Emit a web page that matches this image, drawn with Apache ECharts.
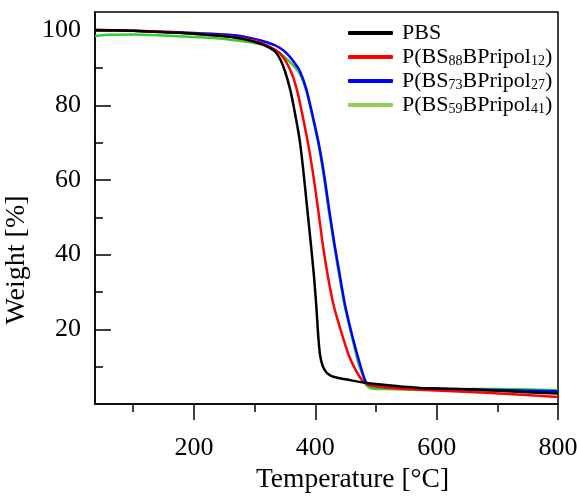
<!DOCTYPE html>
<html>
<head>
<meta charset="utf-8">
<script src="https://cdn.jsdelivr.net/npm/echarts@6/dist/echarts.min.js"></script>
<style>
html, body { margin: 0; padding: 0; background: #fff; }
#chart { width: 577px; height: 497px; }
</style>
</head>
<body>
<div id="chart"></div>
<script>
// 数据: [温度 °C, 重量 %]
var seriesNames = ['PBS', 'P(BS88BPripol12)', 'P(BS73BPripol27)', 'P(BS59BPripol41)'];
var legendLabels = ['PBS', 'P(BS{s|88}BPripol{s|12})', 'P(BS{s|73}BPripol{s|27})', 'P(BS{s|59}BPripol{s|41})'];
var lineColors = ['#000000', '#ff0000', '#0000ff', '#33cc33'];
var legendColors = ['#000000', '#ff0000', '#0000ff', '#92d050'];

var xMajorTicks = [200, 400, 600, 800];
var xMinorTicks = [100, 300, 500, 700];
var yMajorTicks = [20, 40, 60, 80, 100];
var yMinorTicks = [10, 30, 50, 70, 90];

var pbs = [
    [37, 100.2], [100, 100], [150, 99.6], [200, 99.2], [250, 98.5], [280, 97.8], [310, 96.5],
    [325, 95.4], [334, 94.4], [342, 92.4], [350, 89.2], [359, 84], [367, 77.5], [374, 71],
    [380, 63], [386, 53.5], [392, 44], [398, 34], [402, 25.5], [405, 18], [408, 13], [412, 10.3],
    [416, 9], [420, 8.2], [430, 7.3], [457, 6.4], [485, 5.6], [520, 5.0], [572, 4.3],
    [630, 4.0], [682, 3.7], [740, 3.2], [800, 2.8]
];
var pbs88 = [
    [37, 100.1], [100, 100], [150, 99.7], [200, 99.2], [250, 98.6], [280, 98], [310, 96.8],
    [325, 95.7], [342, 93.9], [359, 89.4], [370, 84], [380, 76.5], [389, 69], [397, 61],
    [405, 51.7], [413, 42], [421, 34], [430, 26.6], [446, 17.6], [457, 12.3], [468, 8.7],
    [479, 6.0], [490, 5.0], [512, 4.5], [572, 3.8], [682, 3.0], [740, 2.5], [800, 1.9]
];
var pbs73 = [
    [37, 100.2], [100, 100], [150, 99.7], [200, 99.4], [250, 99], [276, 98.6], [300, 97.8],
    [320, 96.9], [333, 96.1], [343, 95.2], [353, 93.9], [363, 92.0], [374, 89.4], [385, 84.5],
    [396, 77], [406, 69.5], [415, 61], [423, 52], [432, 42.5], [442, 33], [449, 26.6],
    [462, 17.6], [474, 10.5], [483, 6.0], [490, 5.0], [512, 4.6], [572, 4.2],
    [682, 3.8], [800, 3.4]
];
var pbs59 = [
    [37, 98.6], [60, 98.9], [100, 99.0], [150, 98.7], [200, 98.3], [250, 97.8], [276, 97.3],
    [300, 96.7], [320, 95.9], [335, 94.7], [348, 93.1], [362, 91.0], [374, 88.6], [385, 84],
    [396, 76.5], [406, 69], [414, 61], [422, 52], [431, 42.5], [441, 33], [448, 26.6],
    [461, 17.6], [471, 11], [477, 8.2], [484, 5.2], [492, 4.2], [512, 4.0], [550, 3.9],
    [600, 3.9], [650, 4.0], [700, 4.0], [800, 3.7]
];
var seriesData = [pbs, pbs88, pbs73, pbs59];
var seriesZ = [5, 4, 3, 2];

var font = '"Liberation Serif", "Times New Roman", serif';

var myChart = echarts.init(document.getElementById('chart'));

var option = {
    animation: false,
    backgroundColor: '#fff',
    grid: {
        left: 95, right: 19, top: 12, bottom: 93,
        outerBoundsMode: 'none',
        containLabel: false,
        show: true, borderColor: '#000', borderWidth: 1.5, backgroundColor: 'transparent'
    },
    legend: {
        orient: 'vertical',
        left: 348, top: 22,
        padding: 0,
        itemGap: 2,
        itemWidth: 45,
        itemHeight: 4,
        icon: 'roundRect',
        data: seriesNames.map(function (n, i) {
            return { name: n, itemStyle: { color: legendColors[i] } };
        }),
        formatter: function (name) {
            return legendLabels[seriesNames.indexOf(name)];
        },
        textStyle: {
            fontFamily: font, fontSize: 22, lineHeight: 22, color: '#000',
            padding: [0, 0, 0, 4],
            rich: {
                s: { fontFamily: font, fontSize: 14, lineHeight: 12, verticalAlign: 'bottom', color: '#000' }
            }
        }
    },
    xAxis: [{
        type: 'value', min: 37, max: 800,
        name: 'Temperature [°C]', nameLocation: 'middle', nameGap: 60,
        nameTextStyle: { fontFamily: font, fontSize: 27.5, color: '#000', padding: [0, 0, 0, 52] },
        axisLine: { show: true, onZero: false, lineStyle: { color: '#000', width: 1.5 } },
        axisTick: { show: true, inside: false, length: 16, customValues: xMajorTicks, lineStyle: { color: '#000', width: 1.5 } },
        axisLabel: { fontFamily: font, fontSize: 26, color: '#000', margin: 31, customValues: xMajorTicks },
        splitLine: { show: false }
    }, {
        type: 'value', min: 37, max: 800, position: 'bottom',
        axisLine: { show: false },
        axisTick: { show: true, inside: false, length: 8, customValues: xMinorTicks, lineStyle: { color: '#000', width: 1.5 } },
        axisLabel: { show: false },
        splitLine: { show: false }
    }],
    yAxis: [{
        type: 'value', min: 0, max: 105,
        name: 'Weight [%]', nameLocation: 'middle', nameGap: 56,
        nameTextStyle: { fontFamily: font, fontSize: 28, color: '#000', padding: [0, 104, 0, 0] },
        axisLine: { show: true, onZero: false, lineStyle: { color: '#000', width: 1.5 } },
        axisTick: { show: true, inside: true, length: 16, customValues: yMajorTicks, lineStyle: { color: '#000', width: 1.5 } },
        axisLabel: { fontFamily: font, fontSize: 26, color: '#000', margin: 14, customValues: yMajorTicks },
        splitLine: { show: false }
    }, {
        type: 'value', min: 0, max: 105, position: 'left',
        axisLine: { show: false },
        axisTick: { show: true, inside: true, length: 8, customValues: yMinorTicks, lineStyle: { color: '#000', width: 1.5 } },
        axisLabel: { show: false },
        splitLine: { show: false }
    }],
    series: seriesNames.map(function (n, i) {
        return {
            name: n,
            type: 'line',
            data: seriesData[i],
            showSymbol: false,
            symbol: 'none',
            smooth: 0.25,
            z: seriesZ[i],
            itemStyle: { color: lineColors[i] },
            lineStyle: { color: lineColors[i], width: 2.5 }
        };
    })
};

myChart.setOption(option);
</script>
</body>
</html>
